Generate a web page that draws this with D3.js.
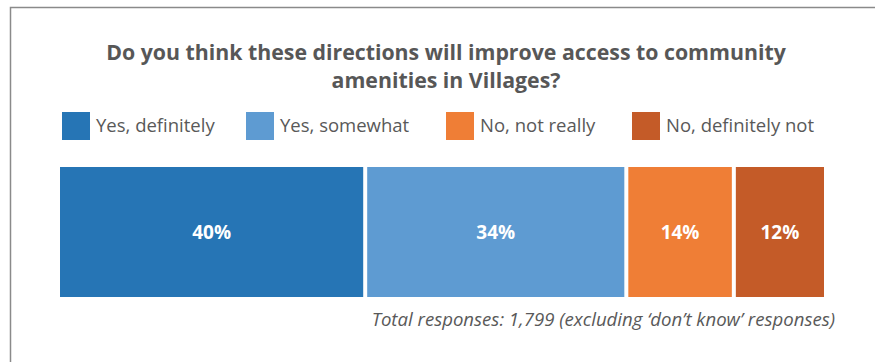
<!DOCTYPE html>
<html>
<head>
<meta charset="utf-8">
<script src="https://cdn.jsdelivr.net/npm/d3@7"></script>
<style>
  html, body { margin: 0; padding: 0; background: #fff; }
  svg { display: block; font-family: "Open Sans", "Noto Sans", sans-serif; }
</style>
</head>
<body>
<svg id="chart" width="875" height="362"></svg>
<script>
// Survey answers and their shares (%)
const categories = ["Yes, definitely", "Yes, somewhat", "No, not really", "No, definitely not"];
const values = [40, 34, 14, 12];
const colors = ["#2675b5", "#5e9bd2", "#ef7e36", "#c45b28"];
const titleLines = ["Do you think these directions will improve access to community", "amenities in Villages?"];
const footnote = "Total responses: 1,799 (excluding \u2018don\u2019t know\u2019 responses)";

const svg = d3.select("#chart");
const W = 875, H = 362;

// Frame around the panel (open to the right and bottom)
svg.append("path")
  .attr("d", `M10.5,${H} V7.5 H${W}`)
  .attr("fill", "none")
  .attr("stroke", "#8a8a8a")
  .attr("stroke-width", 1.5);

// Title
svg.append("text")
  .attr("text-anchor", "middle")
  .attr("font-weight", 700)
  .attr("font-size", 21.3)
  .attr("fill", "#575757")
  .selectAll("tspan")
  .data(titleLines)
  .join("tspan")
  .attr("x", 446)
  .attr("y", (d, i) => 60 + i * 28)
  .text(d => d);

// Legend
const legendX = [62, 246, 446, 632];
const lg = svg.append("g").selectAll("g")
  .data(categories)
  .join("g")
  .attr("transform", (d, i) => `translate(${legendX[i]},112)`);
lg.append("rect")
  .attr("width", 28).attr("height", 28)
  .attr("fill", (d, i) => colors[i]);
lg.append("text")
  .attr("x", 34).attr("y", 20)
  .attr("font-size", 18.5)
  .attr("fill", "#595959")
  .text(d => d);

// Stacked bar
const x0 = 60, x1 = 824, gap = 4;
const x = d3.scaleLinear().domain([0, d3.sum(values)]).range([x0, x1 + gap]);
const stacked = values.map((v, i) => ({ v, i, start: d3.sum(values.slice(0, i)) }));
const y0 = 167, barH = 130;

const seg = svg.append("g").selectAll("g")
  .data(stacked)
  .join("g");
seg.append("rect")
  .attr("x", d => x(d.start))
  .attr("y", y0)
  .attr("width", d => x(d.start + d.v) - x(d.start) - gap)
  .attr("height", barH)
  .attr("fill", d => colors[d.i]);
seg.append("text")
  .attr("x", d => (x(d.start) + x(d.start + d.v) - gap) / 2)
  .attr("y", y0 + barH / 2 + 7)
  .attr("text-anchor", "middle")
  .attr("font-weight", 700)
  .attr("font-size", 19)
  .attr("fill", "#fff")
  .text(d => d.v + "%");

// Footnote
svg.append("text")
  .attr("x", 835).attr("y", 326)
  .attr("text-anchor", "end")
  .attr("font-style", "italic")
  .attr("font-size", 18.6)
  .attr("fill", "#595959")
  .text(footnote);
</script>
</body>
</html>
